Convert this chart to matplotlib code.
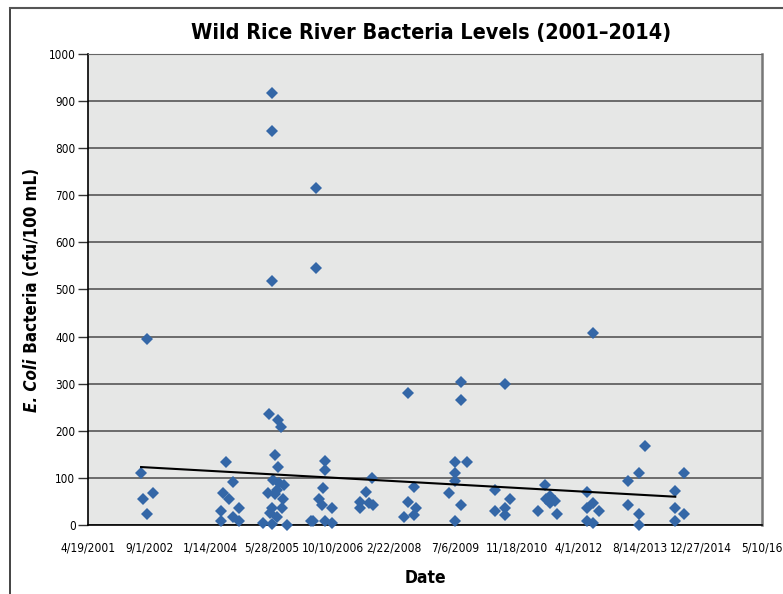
import matplotlib
matplotlib.use("Agg")
import matplotlib.pyplot as plt
import matplotlib.dates as mdates
from matplotlib import font_manager
from matplotlib.lines import Line2D
import numpy as np
import pandas as pd

# look for a narrow / condensed face, the original uses a condensed font
narrow = None
for f in font_manager.fontManager.ttflist:
    nm = f.name.lower()
    if 'narrow' in nm or 'condensed' in nm or f.stretch in ('condensed', 'semi-condensed'):
        if f.weight in ('bold', 700) and narrow is None:
            narrow = f
if narrow is not None:
    FAM = [narrow.name, 'DejaVu Sans']
    STRETCH = narrow.stretch
    SC = 1.0
else:
    FAM = ['Liberation Sans', 'DejaVu Sans']
    STRETCH = 'normal'
    SC = 0.95
plt.rcParams['font.family'] = FAM
plt.rcParams['font.stretch'] = STRETCH

# sample dates and E. coli counts (cfu/100 mL)
dates = [
    "2002-06-26", "2002-08-14", "2002-07-12", "2002-10-02", "2002-08-14",
    "2004-05-19", "2004-07-16", "2004-04-25", "2004-06-13", "2004-04-09",
    "2004-09-03", "2004-04-09", "2004-07-16", "2004-09-03",
    "2005-05-30", "2005-05-30", "2005-05-30", "2005-05-06", "2005-07-18",
    "2005-08-11", "2005-06-24", "2005-07-18", "2005-06-07", "2005-07-26",
    "2005-09-05", "2005-07-10", "2005-04-27", "2005-06-24", "2005-08-28",
    "2005-05-30", "2005-08-20", "2005-05-14", "2005-07-10", "2005-03-18",
    "2005-05-30", "2005-09-29",
    "2006-05-24", "2006-05-24", "2006-08-06", "2006-08-06", "2006-07-20",
    "2006-06-18", "2006-07-12", "2006-10-02", "2006-10-02", "2006-04-13",
    "2006-04-30", "2006-08-06",
    "2007-05-18", "2007-07-06", "2007-08-24", "2007-05-18", "2007-07-31",
    "2007-09-01",
    "2008-06-13", "2008-08-01", "2008-06-13", "2008-08-18", "2008-05-12",
    "2008-08-01",
    "2009-08-20", "2009-08-20", "2009-07-02", "2009-10-08", "2009-07-02",
    "2009-07-02", "2009-05-14", "2009-08-20", "2009-07-02",
    "2010-08-14", "2010-05-24", "2010-09-24", "2010-05-24", "2010-08-14",
    "2010-08-14",
    "2011-07-06", "2011-05-10", "2011-07-14", "2011-08-16", "2011-09-26",
    "2011-08-16", "2011-10-12",
    "2012-08-01", "2012-06-13", "2012-08-01", "2012-06-13", "2012-09-19",
    "2012-06-13", "2012-08-01",
    "2013-09-30", "2013-08-12", "2013-05-14", "2013-05-14", "2013-08-12",
    "2013-08-12",
    "2014-08-14", "2014-06-02", "2014-06-02", "2014-08-14", "2014-06-02",
]
ecoli = [
    110, 395, 55, 68, 23,
    134, 91, 68, 55, 30,
    36, 9, 17, 9,
    917, 837, 518, 236, 223,
    208, 149, 123, 96, 89,
    85, 74, 68, 66, 55,
    36, 36, 25, 17, 4,
    2, 0,
    716, 546, 136, 117, 79,
    55, 42, 36, 4, 9,
    9, 9,
    49, 70, 100, 36, 47,
    42,
    280, 81, 49, 36, 17,
    21,
    304, 265, 134, 134, 110,
    94, 68, 42, 9,
    299, 74, 55, 30, 36,
    21,
    85, 30, 55, 62, 51,
    47, 23,
    408, 70, 47, 36, 30,
    9, 4,
    168, 110, 93, 42, 23,
    0,
    110, 72, 36, 23, 9,
]
# Excel linear trendline, its two ends
trend_dates = ["2002-06-26", "2014-06-02"]
trend_vals = [123, 60]

tick_labels = ["4/19/2001", "9/1/2002", "1/14/2004", "5/28/2005", "10/10/2006",
               "2/22/2008", "7/6/2009", "11/18/2010", "4/1/2012", "8/14/2013",
               "12/27/2014", "5/10/16"]
y_ticks = list(range(0, 1001, 100))

xnum = mdates.date2num(pd.to_datetime(dates))
yv = np.array(ecoli, dtype=float)

fig = plt.figure(figsize=(7.83, 5.94), dpi=100)
ax = fig.add_axes([0.1124, 0.1162, 0.8608, 0.7929])
ax.set_facecolor('#e6e7e6')

ax.plot(xnum, yv, linestyle='none', marker='D', ms=6.2, color='#3467a7',
        markeredgewidth=0, clip_on=False, zorder=3)
ax.plot(mdates.date2num(pd.to_datetime(trend_dates)), trend_vals,
        color='black', lw=1.5, zorder=4)

tick_pos = mdates.date2num(pd.date_range("2001-04-19", periods=len(tick_labels), freq="500D"))
ax.set_xlim(tick_pos[0], tick_pos[-1])
ax.set_xticks(tick_pos)
ax.set_xticklabels(tick_labels, fontsize=8.6 * SC)
ax.tick_params(axis='x', length=0, pad=12)

ax.set_ylim(0, 1000)
ax.set_yticks(y_ticks)
ax.tick_params(axis='y', length=7, width=1, pad=2, labelsize=8.4 * SC, color='#333333')
ax.yaxis.grid(True, color='#4a4a4a', lw=1.1)
ax.set_axisbelow(True)

for s in ['left', 'bottom']:
    ax.spines[s].set_color('black')
    ax.spines[s].set_linewidth(1.2)
ax.spines['top'].set_color('#666666')
ax.spines['right'].set_color('#777777')
ax.spines['right'].set_linewidth(1.8)

fig.text(0.551, 0.944, "Wild Rice River Bacteria Levels (2001\u20132014)",
         ha='center', va='center', fontsize=15.5 * SC, fontweight='bold')
fig.text(0.543, 0.027, "Date", ha='center', va='center', fontsize=12.5 * SC, fontweight='bold')

# y label: italic "E. Coli" followed by upright text
yl1 = fig.text(0.041, 0.3, "E. Coli", rotation=90, ha='center', va='bottom',
               fontsize=12.2 * SC, fontweight='bold', fontstyle='italic')
yl2 = fig.text(0.041, 0.4, " Bacteria (cfu/100 mL)", rotation=90, ha='center', va='bottom',
               fontsize=12.2 * SC, fontweight='bold')
fig.canvas.draw()
r = fig.canvas.get_renderer()
h1 = yl1.get_window_extent(r).height / fig.bbox.height
h2 = yl2.get_window_extent(r).height / fig.bbox.height
y0 = 0.512 - (h1 + h2) / 2
yl1.set_y(y0)
yl2.set_y(y0 + h1)

# outer frame of the chart area
fig.add_artist(Line2D([0.0128, 0.0128], [0.0, 0.9865], color='#222222', lw=1.2))
fig.add_artist(Line2D([0.0128, 1.0], [0.9865, 0.9865], color='#555555', lw=1.5))

fig.savefig("out.png", dpi=100)
